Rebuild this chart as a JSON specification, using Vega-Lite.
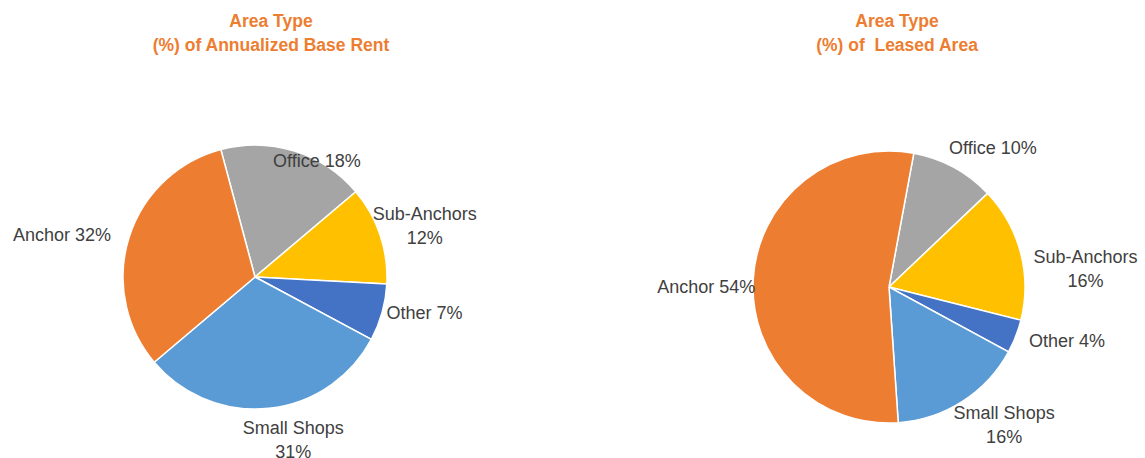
{
  "$schema": "https://vega.github.io/schema/vega-lite/v6.json",
  "padding": {"top": 12, "left": 0, "right": 0, "bottom": 0},
  "spacing": 124,
  "bounds": "flush",
  "config": {
    "view": {"stroke": null},
    "title": {"font": "Liberation Sans", "fontSize": 17.5, "fontWeight": "bold", "color": "#ED7D31", "lineHeight": 24},
    "text": {"font": "Liberation Sans", "fontSize": 18, "fill": "#404040", "lineBreak": "\n", "lineHeight": 24}
  },
  "hconcat": [
    {
      "width": 510,
      "height": 324,
      "title": {"text": ["Area Type", "(%) of Annualized Base Rent"], "dx": 16, "offset": 36, "anchor": "middle"},
      "data": {"values": [
        {"type": "Office", "pct": 18, "rank": 1, "label": "Office 18%"},
        {"type": "Sub-Anchors", "pct": 12, "rank": 2, "label": "Sub-Anchors\n12%"},
        {"type": "Other", "pct": 7, "rank": 3, "label": "Other 7%"},
        {"type": "Small Shops", "pct": 31, "rank": 4, "label": "Small Shops\n31%"},
        {"type": "Anchor", "pct": 32, "rank": 5, "label": "Anchor 32%"}
      ]},
      "encoding": {
        "theta": {"field": "pct", "type": "quantitative", "stack": true, "scale": {"range": [-0.2618, 6.0214]}},
        "order": {"field": "rank", "type": "quantitative"}
      },
      "layer": [
        {
          "mark": {"type": "arc", "outerRadius": 132, "stroke": "white", "strokeWidth": 1.5},
          "encoding": {"color": {"field": "type", "type": "nominal", "legend": null,
            "scale": {"domain": ["Anchor", "Small Shops", "Other", "Sub-Anchors", "Office"], "range": ["#ED7D31", "#5B9BD5", "#4472C4", "#FFC000", "#A5A5A5"]}}}
        },
        {
          "mark": {"type": "text", "radius": 120, "dx": 26},
          "encoding": {"detail": {"field": "type"}, "text": {"condition": {"test": "datum.type === 'Office'", "field": "label"}, "value": ""}}
        },
        {
          "mark": {"type": "text", "radius": 177, "dx": 2, "dy": -6},
          "encoding": {"detail": {"field": "type"}, "text": {"condition": {"test": "datum.type === 'Sub-Anchors'", "field": "label"}, "value": ""}}
        },
        {
          "mark": {"type": "text", "radius": 176, "dy": -10},
          "encoding": {"detail": {"field": "type"}, "text": {"condition": {"test": "datum.type === 'Other'", "field": "label"}, "value": ""}}
        },
        {
          "mark": {"type": "text", "radius": 165, "dx": 21, "dy": -12},
          "encoding": {"detail": {"field": "type"}, "text": {"condition": {"test": "datum.type === 'Small Shops'", "field": "label"}, "value": ""}}
        },
        {
          "mark": {"type": "text", "radius": 197, "dx": -5, "dy": 18},
          "encoding": {"detail": {"field": "type"}, "text": {"condition": {"test": "datum.type === 'Anchor'", "field": "label"}, "value": ""}}
        }
      ]
    },
    {
      "width": 510,
      "height": 344,
      "title": {"text": ["Area Type", "(%) of \u00a0Leased Area"], "dx": 8, "offset": 42, "anchor": "middle"},
      "data": {"values": [
        {"type": "Office", "pct": 10, "rank": 1, "label": "Office 10%"},
        {"type": "Sub-Anchors", "pct": 16, "rank": 2, "label": "Sub-Anchors\n16%"},
        {"type": "Other", "pct": 4, "rank": 3, "label": "Other 4%"},
        {"type": "Small Shops", "pct": 16, "rank": 4, "label": "Small Shops\n16%"},
        {"type": "Anchor", "pct": 54, "rank": 5, "label": "Anchor 54%"}
      ]},
      "encoding": {
        "theta": {"field": "pct", "type": "quantitative", "stack": true, "scale": {"range": [0.18326, 6.46645]}},
        "order": {"field": "rank", "type": "quantitative"}
      },
      "layer": [
        {
          "mark": {"type": "arc", "outerRadius": 136, "stroke": "white", "strokeWidth": 1.5},
          "encoding": {"color": {"field": "type", "type": "nominal", "legend": null,
            "scale": {"domain": ["Anchor", "Small Shops", "Other", "Sub-Anchors", "Office"], "range": ["#ED7D31", "#5B9BD5", "#4472C4", "#FFC000", "#A5A5A5"]}}}
        },
        {
          "mark": {"type": "text", "radius": 157, "dx": 29},
          "encoding": {"detail": {"field": "type"}, "text": {"condition": {"test": "datum.type === 'Office'", "field": "label"}, "value": ""}}
        },
        {
          "mark": {"type": "text", "radius": 200, "dx": 3, "dy": 22},
          "encoding": {"detail": {"field": "type"}, "text": {"condition": {"test": "datum.type === 'Sub-Anchors'", "field": "label"}, "value": ""}}
        },
        {
          "mark": {"type": "text", "radius": 191, "dy": -14},
          "encoding": {"detail": {"field": "type"}, "text": {"condition": {"test": "datum.type === 'Other'", "field": "label"}, "value": ""}}
        },
        {
          "mark": {"type": "text", "radius": 165, "dx": 26, "dy": -12},
          "encoding": {"detail": {"field": "type"}, "text": {"condition": {"test": "datum.type === 'Small Shops'", "field": "label"}, "value": ""}}
        },
        {
          "mark": {"type": "text", "radius": 183, "dy": 12},
          "encoding": {"detail": {"field": "type"}, "text": {"condition": {"test": "datum.type === 'Anchor'", "field": "label"}, "value": ""}}
        }
      ]
    }
  ]
}
